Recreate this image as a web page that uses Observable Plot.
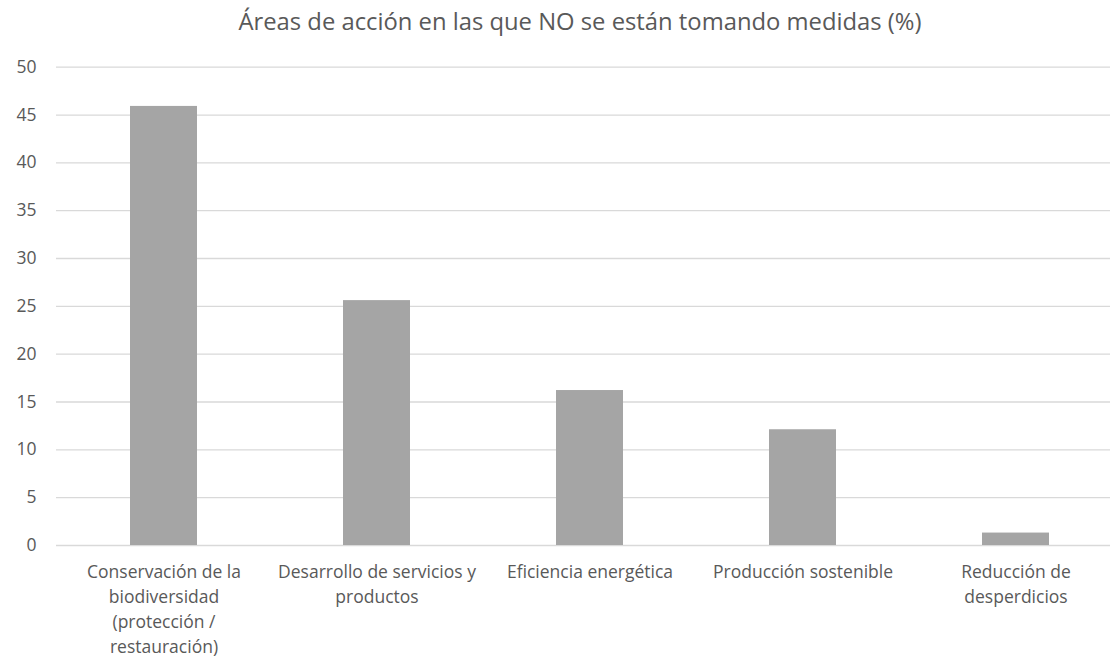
<!DOCTYPE html>
<html>
<head>
<meta charset="utf-8">
<script src="https://cdn.jsdelivr.net/npm/d3@7"></script>
<script src="https://cdn.jsdelivr.net/npm/@observablehq/plot@0.6"></script>
<style>
  html, body { margin: 0; padding: 0; background: #fff; }
  #wrap { width: 1110px; height: 659px; overflow: hidden; position: relative; font-family: "Open Sans", sans-serif; }
  #title { height: 50px; box-sizing: border-box; padding-top: 6px; padding-left: 50px; text-align: center; font-size: 23.8px; color: #595959; line-height: 30px; white-space: nowrap; }
  #chart svg { display: block; overflow: hidden; }
</style>
</head>
<body>
<div id="wrap">
  <div id="title">Áreas de acción en las que NO se están tomando medidas (%)</div>
  <div id="chart"></div>
</div>
<script>
const categories = [
  "Conservación de la biodiversidad (protección / restauración)",
  "Desarrollo de servicios y productos",
  "Eficiencia energética",
  "Producción sostenible",
  "Reducción de desperdicios"
];
const values = [45.9, 25.6, 16.2, 12.1, 1.3];
const tickLabels = [
  "Conservación de la\nbiodiversidad\n(protección /\nrestauración)",
  "Desarrollo de servicios y\nproductos",
  "Eficiencia energética",
  "Producción sostenible",
  "Reducción de\ndesperdicios"
];
const yTicks = [0, 5, 10, 15, 20, 25, 30, 35, 40, 45, 50];

const data = categories.map((c, i) => ({category: c, value: values[i]}));
const labelOf = new Map(categories.map((c, i) => [c, tickLabels[i]]));

const chart = Plot.plot({
  width: 1110,
  height: 609,
  marginTop: 16.7,
  marginBottom: 114,
  marginLeft: 56,
  marginRight: 0,
  style: {fontFamily: "'Open Sans', sans-serif", fontSize: "18px", color: "#595959", background: "#fff", overflow: "hidden"},
  x: {domain: categories, range: [56, 1123], paddingInner: 0.686, paddingOuter: 0.343, label: null},
  y: {domain: [0, 50], label: null},
  marks: [
    Plot.ruleY(yTicks, {stroke: "#D9D9D9", strokeWidth: 1.3}),
    Plot.barY(data, {x: "category", y: "value", fill: "#A5A5A5"}),
    Plot.axisY(yTicks, {tickSize: 0, tickPadding: 20, fill: "#595959", fontSize: 17.5, label: null}),
    Plot.axisX({tickSize: 0, tickPadding: 15, fill: "#595959", fontSize: 17.5, lineHeight: 1.43, tickFormat: d => labelOf.get(d), label: null})
  ]
});
document.getElementById("chart").appendChild(chart);
</script>
</body>
</html>
